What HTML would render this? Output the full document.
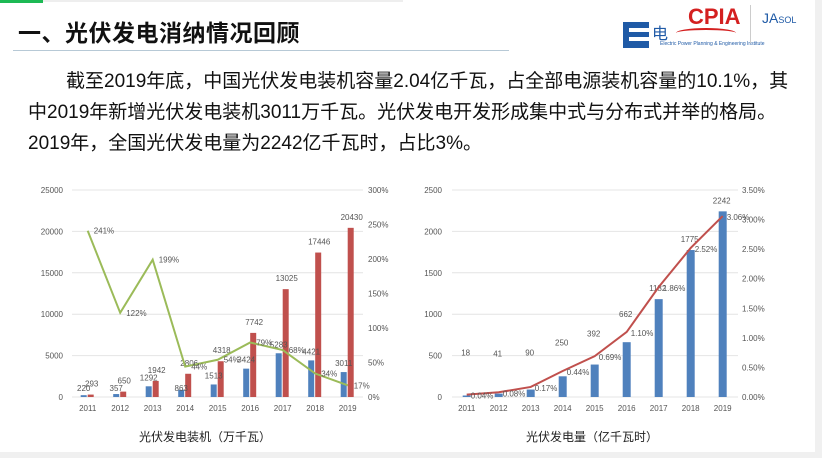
<!DOCTYPE html>
<html><head><meta charset="utf-8">
<style>
body{margin:0;width:822px;height:458px;background:#fff;overflow:hidden;position:relative;font-family:"Liberation Sans","Noto Sans CJK SC",sans-serif}
.t{position:absolute;white-space:nowrap}
</style></head><body>
<div style="position:absolute;left:0;top:0;width:43px;height:3px;background:#1db954"></div>
<div style="position:absolute;left:43px;top:0;width:360px;height:2px;background:#eee"></div>
<div class="t" style="left:18px;top:14px;font-size:23px;font-weight:bold;color:#111;letter-spacing:0.5px">一、光伏发电消纳情况回顾</div>
<div style="position:absolute;left:13px;top:50px;width:496px;height:1px;background:#b7c9d6"></div>
<div style="position:absolute;left:623px;top:22px;width:26px;height:26px;background:#1f5aa6"></div>
<div style="position:absolute;left:629px;top:28px;width:20px;height:4px;background:#fff"></div>
<div style="position:absolute;left:629px;top:37px;width:20px;height:4px;background:#fff"></div>
<div class="t" style="left:652px;top:20px;font-size:16px;color:#1f5aa6">电</div>
<div class="t" style="left:688px;top:4px;font-size:22px;font-weight:bold;color:#d42020">CPIA</div>
<div style="position:absolute;left:676px;top:28px;width:60px;height:8px;border-top:2px solid #d42020;border-radius:50% 50% 0 0"></div>
<div class="t" style="left:660px;top:41px;font-size:5px;color:#1f5aa6">Electric Power Planning &amp; Engineering Institute</div>
<div style="position:absolute;left:750px;top:5px;width:1px;height:38px;background:#ccc"></div>
<div class="t" style="left:762px;top:10px;font-size:14px;color:#1f5aa6">JA<span style="font-size:9px">SOL</span></div>
<div class="t" style="left:66px;top:66px;font-size:19px;color:#111">截至2019年底，中国光伏发电装机容量2.04亿千瓦，占全部电源装机容量的10.1%，其</div>
<div class="t" style="left:28px;top:97px;font-size:19px;color:#111">中2019年新增光伏发电装机3011万千瓦。光伏发电开发形成集中式与分布式并举的格局。</div>
<div class="t" style="left:28px;top:128px;font-size:19px;color:#111">2019年，全国光伏发电量为2242亿千瓦时，占比3%。</div>
<div style="position:absolute;left:815px;top:0;width:7px;height:458px;background:#f0f0f0"></div>
<div style="position:absolute;left:0;top:452px;width:822px;height:6px;background:#f0f0f0"></div>
<svg id="s" width="822" height="458" style="position:absolute;left:0;top:0" font-family="Liberation Sans, sans-serif"></svg>
<script>
var s='',Y0=397,H=207;
function tx(x,y,t,a,sz,c){s+='<text x="'+x+'" y="'+y+'" font-size="'+(sz||8)+'" fill="'+(c||'#555')+'" text-anchor="'+(a||'middle')+'">'+t+'</text>';}
// left chart
for(var i=0;i<=5;i++){var y=Y0-i*H/5;s+='<line x1="72" x2="363" y1="'+y+'" y2="'+y+'" stroke="#e4e4e4"/>';tx(63,y+3,i*5000,'end');}
for(i=0;i<=6;i++){var y=Y0-i*H/6;tx(368,y+3,(i*50)+'%','start');}
var yrs=[2011,2012,2013,2014,2015,2016,2017,2018,2019];
var nb=[220,357,1292,863,1513,3424,5283,4421,3011],cb=[293,650,1942,2806,4318,7742,13025,17446,20430],gp=[241,122,199,44,54,79,68,34,17];
var pts=[];
for(i=0;i<9;i++){var cx=87.7+i*32.5;var hb=nb[i]*H/25000,hr=cb[i]*H/25000;
s+='<rect x="'+(cx-7)+'" y="'+(Y0-hb)+'" width="6" height="'+hb+'" fill="#4f81bd"/>';
s+='<rect x="'+(cx)+'" y="'+(Y0-hr)+'" width="6" height="'+hr+'" fill="#c0504d"/>';
tx(cx,411,yrs[i]);pts.push(cx+','+(Y0-gp[i]*H/300));
tx(cx-4,Y0-hb-6<Y0-14?Y0-hb-6:Y0-6,nb[i]);tx(cx+4,Y0-hr-8,cb[i]);}
s+='<polyline points="'+pts.join(' ')+'" fill="none" stroke="#9bbb59" stroke-width="2"/>';
for(i=0;i<9;i++){var p=pts[i].split(',');tx(+p[0]+6,+p[1]+3,gp[i]+'%','start');}
tx(205,441,'光伏发电装机（万千瓦）','middle',12,'#222');
// right chart
var ge=[18,41,90,250,392,662,1182,1775,2242],rp=[0.04,0.08,0.17,0.44,0.69,1.10,1.86,2.52,3.06];
for(i=0;i<=5;i++){var y=Y0-i*H/5;s+='<line x1="452" x2="738" y1="'+y+'" y2="'+y+'" stroke="#e4e4e4"/>';tx(442,y+3,i*500,'end');}
for(i=0;i<=7;i++){var y=Y0-i*H/7;tx(742,y+3,(i*0.5).toFixed(2)+'%','start');}
pts=[];
for(i=0;i<9;i++){var cx=466.7+i*32;var h=ge[i]*H/2500;
s+='<rect x="'+(cx-4)+'" y="'+(Y0-h)+'" width="8" height="'+h+'" fill="#4f81bd"/>';
tx(cx,411,yrs[i]);pts.push(cx+','+(Y0-rp[i]*H/3.5));tx(cx-1,Y0-h-(i<6?40-i*3:8),ge[i]);}
s+='<polyline points="'+pts.join(' ')+'" fill="none" stroke="#c0504d" stroke-width="2"/>';
for(i=0;i<9;i++){var p=pts[i].split(',');tx(+p[0]+4,+p[1]+4,rp[i].toFixed(2)+'%','start');}
tx(592,441,'光伏发电量（亿千瓦时）','middle',12,'#222');
document.getElementById('s').innerHTML=s;
</script>
</body></html>
